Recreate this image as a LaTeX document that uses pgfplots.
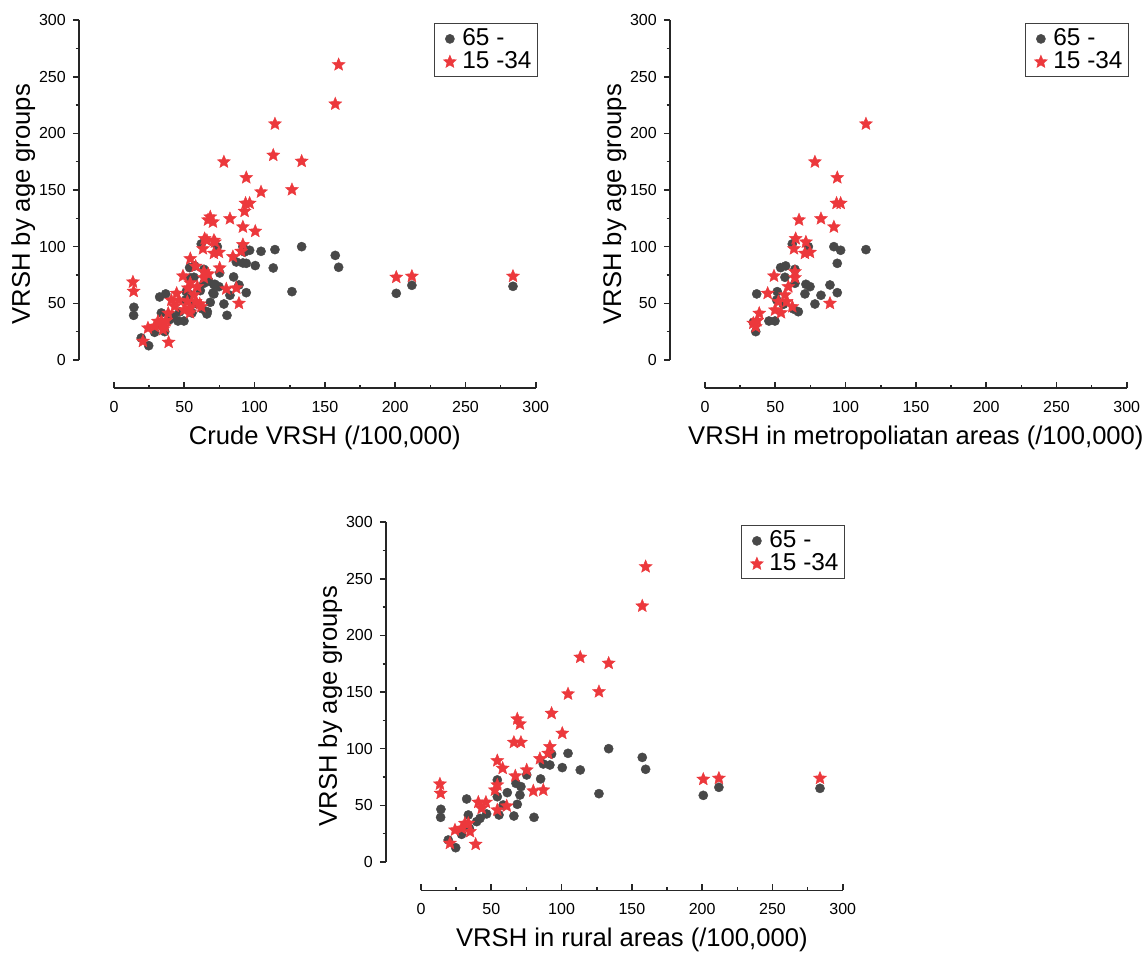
\documentclass[border=0pt]{standalone}
\usepackage{fontspec}
\setmainfont{Liberation Sans}
\usepackage{pgfplots}
\pgfplotsset{compat=1.18}
\usepackage{pgfplotstable}

\definecolor{oldgrey}{RGB}{72,72,72}
\definecolor{youngred}{RGB}{236,56,60}

% filled five-pointed star
\pgfdeclareplotmark{fstar}{%
  \pgfpathmoveto{\pgfpointpolar{90}{\pgfplotmarksize}}%
  \pgfpathlineto{\pgfpointpolar{126}{0.45\pgfplotmarksize}}%
  \pgfpathlineto{\pgfpointpolar{162}{\pgfplotmarksize}}%
  \pgfpathlineto{\pgfpointpolar{198}{0.45\pgfplotmarksize}}%
  \pgfpathlineto{\pgfpointpolar{234}{\pgfplotmarksize}}%
  \pgfpathlineto{\pgfpointpolar{270}{0.45\pgfplotmarksize}}%
  \pgfpathlineto{\pgfpointpolar{306}{\pgfplotmarksize}}%
  \pgfpathlineto{\pgfpointpolar{342}{0.45\pgfplotmarksize}}%
  \pgfpathlineto{\pgfpointpolar{18}{\pgfplotmarksize}}%
  \pgfpathlineto{\pgfpointpolar{54}{0.45\pgfplotmarksize}}%
  \pgfpathclose
  \pgfusepathqfillstroke}

% metropolitan areas, 65 and over
\pgfplotstableread{
x y
114.5 97.4
91.7 100.0
96.5 96.8
94.1 85.3
62.1 102.4
73.5 100.0
53.8 81.5
57.4 83.0
64.0 80.0
56.9 73.0
64.0 67.7
71.8 66.8
74.7 64.7
88.9 66.2
36.8 58.3
51.4 60.3
71.1 58.3
82.5 57.1
94.1 59.4
78.2 49.4
66.4 42.6
63.0 45.0
45.5 34.4
49.8 34.4
36.1 25.0
34.4 33.3
51.0 53.0
55.7 49.1
}\metroold

% metropolitan areas, 15-34
\pgfplotstableread{
x y
114.5 208.3
78.2 174.8
94.1 160.9
93.6 138.3
96.5 138.3
66.9 123.6
82.5 124.7
91.7 117.4
64.5 107.1
71.8 104.1
63.3 98.2
71.1 94.1
74.7 95.0
49.1 74.1
64.0 77.9
64.0 72.6
59.3 64.7
44.6 58.8
56.9 57.4
52.2 51.5
58.1 51.5
62.1 47.0
49.8 44.1
54.1 41.7
88.9 50.0
38.6 41.2
34.4 32.4
37.2 34.8
36.1 29.4
}\metroyoung

% rural areas, 65 and over
\pgfplotstableread{
x y
133.5 100.0
157.4 92.3
159.8 81.8
104.6 95.9
92.9 95.3
87.0 86.5
91.7 85.6
100.5 83.3
113.3 81.2
75.2 76.8
85.1 73.3
126.6 60.3
200.8 58.8
211.9 65.9
283.8 65.0
54.3 72.4
67.6 69.4
71.1 66.5
61.4 61.2
54.3 57.6
70.4 59.1
68.5 50.9
32.5 55.6
14.2 46.5
14.0 39.4
66.1 40.6
80.4 39.4
55.5 41.5
46.7 42.4
42.0 38.5
39.6 35.6
33.7 41.5
28.9 24.4
19.4 19.4
24.7 12.6
58.5 50.3
34.4 29.7
}\ruralold

% rural areas, 15-34
\pgfplotstableread{
x y
159.8 260.6
157.4 225.9
113.3 180.7
133.5 175.4
104.6 148.3
126.6 150.3
92.9 131.2
68.5 126.2
70.4 121.8
100.5 113.6
66.1 105.6
71.1 105.6
91.7 101.8
84.6 91.2
90.5 95.9
54.3 89.4
58.1 82.7
75.2 81.2
67.1 75.9
13.5 68.8
14.0 60.6
54.3 68.0
52.6 63.5
79.9 62.7
87.0 63.5
40.8 52.7
46.2 52.7
43.2 47.4
54.3 45.9
61.0 49.4
24.2 28.2
31.3 34.1
33.7 34.1
34.9 26.8
20.6 16.5
38.9 15.6
28.9 29.7
200.8 73.0
211.9 73.9
283.8 73.9
}\ruralyoung

\pgfplotsset{
  vrsh/.style={
    x=0.703pt, y=0.5665pt,
    xmin=-25, xmax=300, ymin=-25, ymax=300,
    clip=false,
    axis x line*=bottom, axis y line*=left,
    axis line style={line width=0.8pt, black!85},
    x axis line style={shorten <=17.6pt},
    y axis line style={shorten <=14.2pt},
    xtick={0,50,...,300}, ytick={0,50,...,300},
    minor x tick num=1, minor y tick num=1,
    tick align=outside,
    major tick length=3pt, minor tick length=1.6pt,
    tick style={line width=0.8pt, black!85},
    major x tick style={yshift=3pt},
    minor x tick style={yshift=1.6pt},
    tick label style={font=\fontsize{8}{9}\selectfont},
    /pgf/number format/assume math mode=true,
    label style={font=\fontsize{12.8}{14}\selectfont},
    xlabel style={at={(ticklabel cs:0.5385)}},
    ylabel={VRSH by age groups},
    ylabel shift=-5pt,
    legend style={at={(1.005,0.991)}, anchor=north east, draw=black!75,
      line width=0.5pt, font=\fontsize{12.2}{13}\selectfont,
      inner xsep=1pt, inner ysep=0.5pt, row sep=-2.5pt},
    legend cell align=left,
    legend image code/.code={\path (0cm,0cm) (0.36cm,0cm);
      \draw[##1] plot coordinates {(0.22cm,0cm)};},
  },
  oldmk/.style={only marks, mark=*, mark size=2.3pt,
    mark options={fill=oldgrey, draw=oldgrey, line width=0.2pt}},
  youngmk/.style={only marks, mark=fstar, mark size=3.4pt,
    mark options={fill=youngred, draw=youngred, line width=0.2pt}},
}

\begin{document}
\begin{tikzpicture}
\useasboundingbox (0,0) rectangle (571.5pt,476.5pt);

% crude
\begin{axis}[vrsh, at={(39.4pt,282.35pt)}, anchor=south west,
  xlabel={Crude VRSH (/100,000)}]
  \addplot[oldmk, forget plot] table {\metroold};
  \addplot[oldmk] table {\ruralold};
  \addlegendentry{65 -}
  \addplot[youngmk, forget plot] table {\metroyoung};
  \addplot[youngmk] table {\ruralyoung};
  \addlegendentry{15 -34}
\end{axis}

% metropolitan
\begin{axis}[vrsh, at={(334.9pt,282.35pt)}, anchor=south west,
  xlabel={VRSH in metropoliatan areas (/100,000)}]
  \addplot[oldmk] table {\metroold};
  \addlegendentry{65 -}
  \addplot[youngmk] table {\metroyoung};
  \addlegendentry{15 -34}
\end{axis}

% rural
\begin{axis}[vrsh, at={(192.9pt,31.35pt)}, anchor=south west,
  xlabel={VRSH in rural areas (/100,000)}]
  \addplot[oldmk] table {\ruralold};
  \addlegendentry{65 -}
  \addplot[youngmk] table {\ruralyoung};
  \addlegendentry{15 -34}
\end{axis}
\end{tikzpicture}
\end{document}
